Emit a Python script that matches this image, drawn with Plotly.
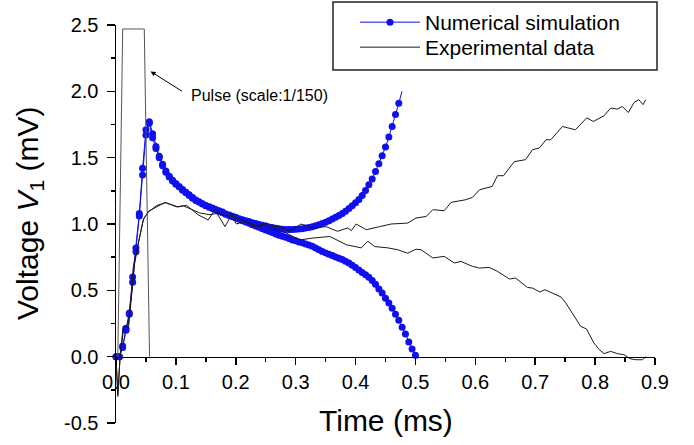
import plotly.graph_objects as go

# ---------------- data ----------------
sim_t = [0, 0.0056, 0.0111, 0.0167, 0.0222, 0.0278, 0.0333, 0.0389, 0.0444, 0.05,
         0.0556, 0.0611, 0.0667, 0.0722, 0.0778, 0.0833, 0.0889, 0.0944, 0.1, 0.1056,
         0.1111, 0.1167, 0.1222, 0.1278, 0.1333, 0.1389, 0.1444, 0.15, 0.1556, 0.1611,
         0.1667, 0.1722, 0.1778, 0.1833, 0.1889, 0.1944, 0.2, 0.2056, 0.2111, 0.2167,
         0.2222, 0.2278, 0.2333, 0.2389, 0.2444, 0.25, 0.2556, 0.2611, 0.2667, 0.2722,
         0.2778, 0.2833, 0.2889, 0.2944, 0.3, 0.3056, 0.3111, 0.3167, 0.3222, 0.3278,
         0.3333, 0.3389, 0.3444, 0.35, 0.3556, 0.3611, 0.3667, 0.3722, 0.3778, 0.3833,
         0.3889, 0.3944, 0.4, 0.4056, 0.4111, 0.4167, 0.4222, 0.4278, 0.4333, 0.4389,
         0.4444, 0.45, 0.4556, 0.4611, 0.4667, 0.4722, 0.4778, 0.4833, 0.4889, 0.4944,
         0.5]

# numerical simulation, branch diverging upwards (86 samples)
sim_up_v = [0.0, 0.0, 0.08, 0.21, 0.33, 0.60, 0.82, 1.08, 1.42, 1.71,
            1.76, 1.65, 1.57, 1.50, 1.44, 1.39, 1.355, 1.325, 1.30, 1.28,
            1.255, 1.235, 1.215, 1.195, 1.178, 1.165, 1.152, 1.14, 1.13, 1.12,
            1.11, 1.10, 1.09, 1.075, 1.067, 1.058, 1.05, 1.04, 1.032, 1.025,
            1.018, 1.01, 1.003, 0.997, 0.99, 0.984, 0.978, 0.973, 0.968, 0.964,
            0.961, 0.959, 0.958, 0.958, 0.96, 0.962, 0.965, 0.969, 0.974, 0.98,
            0.987, 0.995, 1.004, 1.014, 1.025, 1.037, 1.05, 1.064, 1.08, 1.097,
            1.116, 1.137, 1.16, 1.185, 1.215, 1.252, 1.295, 1.34, 1.395, 1.455,
            1.515, 1.58, 1.655, 1.735, 1.825, 1.91]
# line continues past the last marker
sim_up_tail_t = [0.4722, 0.4775]
sim_up_tail_v = [1.91, 2.0]

# numerical simulation, branch decaying to zero (91 samples)
sim_dn_v = [0.0, 0.0, 0.07, 0.20, 0.32, 0.56, 0.79, 1.06, 1.37, 1.67,
            1.77, 1.68, 1.585, 1.51, 1.45, 1.40, 1.36, 1.33, 1.305, 1.28,
            1.26, 1.24, 1.22, 1.20, 1.18, 1.165, 1.15, 1.138, 1.127, 1.117,
            1.106, 1.095, 1.085, 1.073, 1.064, 1.055, 1.045, 1.035, 1.025, 1.015,
            1.005, 0.995, 0.985, 0.975, 0.965, 0.955, 0.945, 0.935, 0.925, 0.915,
            0.908, 0.90, 0.89, 0.88, 0.873, 0.865, 0.858, 0.85, 0.842, 0.833,
            0.82, 0.806, 0.793, 0.782, 0.772, 0.762, 0.752, 0.742, 0.732, 0.72,
            0.706, 0.69, 0.672, 0.653, 0.635, 0.618, 0.598, 0.574, 0.545, 0.51,
            0.48, 0.44, 0.405, 0.365, 0.32, 0.275, 0.222, 0.17, 0.11, 0.058,
            0.01]

# experimental data, trace ending high
exp_a_t = [0.0, 0.003, 0.0067, 0.012, 0.0205, 0.026, 0.029, 0.037, 0.0455, 0.054,
           0.065, 0.082, 0.093, 0.104, 0.112, 0.126, 0.14, 0.157, 0.173, 0.182,
           0.193, 0.2, 0.212, 0.223, 0.24, 0.251, 0.262, 0.273, 0.29, 0.309,
           0.329, 0.351, 0.37, 0.387, 0.393, 0.401, 0.418, 0.44, 0.4595, 0.487,
           0.501, 0.518, 0.529, 0.548, 0.5595, 0.584, 0.595, 0.607, 0.628, 0.637,
           0.647, 0.665, 0.684, 0.6955, 0.707, 0.718, 0.726, 0.7455, 0.767, 0.786,
           0.797, 0.815, 0.826, 0.837, 0.8455, 0.8555, 0.865, 0.873, 0.88, 0.8845]
exp_a_v = [0.0, -0.3, 0.0, 0.23, 0.24, 0.48, 0.68, 0.86, 1.03, 1.095,
           1.12, 1.163, 1.145, 1.128, 1.138, 1.108, 1.083, 1.07, 1.083, 1.06,
           1.083, 1.045, 1.03, 1.007, 0.98, 1.007, 0.98, 0.98, 0.945, 1.0,
           0.97, 0.98, 0.945, 0.97, 0.95, 1.0, 0.957, 0.98, 1.0, 1.007,
           1.045, 1.057, 1.108, 1.10, 1.163, 1.183, 1.20, 1.258, 1.283, 1.364,
           1.364, 1.47, 1.485, 1.56, 1.573, 1.635, 1.635, 1.735, 1.71, 1.80,
           1.773, 1.816, 1.874, 1.866, 1.886, 1.84, 1.916, 1.937, 1.90, 1.937]

# experimental data, trace decaying
exp_b_t = [0.0, 0.003, 0.007, 0.013, 0.021, 0.027, 0.031, 0.038, 0.046, 0.054,
           0.068, 0.083, 0.101, 0.118, 0.13, 0.137, 0.154, 0.165, 0.182, 0.193,
           0.201, 0.215, 0.23, 0.245, 0.26, 0.273, 0.2955, 0.307, 0.329, 0.357,
           0.3845, 0.4095, 0.4205, 0.432, 0.454, 0.4705, 0.487, 0.501, 0.5095, 0.529,
           0.548, 0.565, 0.576, 0.5955, 0.607, 0.623, 0.637, 0.657, 0.667, 0.687,
           0.6955, 0.708, 0.716, 0.7317, 0.743, 0.751, 0.765, 0.776, 0.7855, 0.798,
           0.807, 0.815, 0.826, 0.837, 0.848, 0.858, 0.868, 0.879, 0.8845]
exp_b_v = [0.0, -0.28, 0.0, 0.22, 0.22, 0.50, 0.70, 0.87, 1.04, 1.09,
           1.14, 1.16, 1.13, 1.14, 1.10, 1.07, 1.03, 1.108, 0.98, 1.07,
           1.0, 1.02, 0.98, 1.0, 0.96, 0.957, 0.906, 0.88, 0.894, 0.906,
           0.844, 0.82, 0.87, 0.83, 0.82, 0.806, 0.78, 0.81, 0.806, 0.744,
           0.756, 0.706, 0.718, 0.68, 0.668, 0.673, 0.643, 0.585, 0.593, 0.522,
           0.517, 0.487, 0.505, 0.472, 0.45, 0.405, 0.304, 0.228, 0.209, 0.103,
           0.053, 0.023, 0.04, 0.023, 0.015, -0.015, -0.023, -0.023, 0.0]

# excitation pulse (scale 1/150)
pulse_t = [0.003, 0.0112, 0.0472, 0.056]
pulse_v = [0.0, 2.47, 2.47, 0.0]

x_ticks = [0.0, 0.1, 0.2, 0.3, 0.4, 0.5, 0.6, 0.7, 0.8, 0.9]
y_ticks = [-0.5, 0.0, 0.5, 1.0, 1.5, 2.0, 2.5]

# ---------------- figure ----------------
FONT = "Liberation Sans, Arial, Helvetica, sans-serif"
BLUE = "#0f0ff0"
BLACK = "#1a1a1a"
W, H = 694, 445
L, R, T, B = 116, 39, 25, 22
PW, PH = W - L - R, H - T - B

fig = go.Figure()
fig.add_trace(go.Scatter(x=sim_t[:len(sim_up_v)], y=sim_up_v, mode="lines+markers",
                         name="Numerical simulation", legend="legend",
                         line=dict(color=BLUE, width=1),
                         marker=dict(color=BLUE, size=7), cliponaxis=False))
fig.add_trace(go.Scatter(x=sim_up_tail_t, y=sim_up_tail_v, mode="lines",
                         line=dict(color=BLUE, width=1), showlegend=False))
fig.add_trace(go.Scatter(x=sim_t, y=sim_dn_v, mode="lines+markers",
                         line=dict(color=BLUE, width=1),
                         marker=dict(color=BLUE, size=7), showlegend=False,
                         cliponaxis=False))
fig.add_trace(go.Scatter(x=exp_a_t, y=exp_a_v, mode="lines", name="Experimental data",
                         legend="legend2", line=dict(color=BLACK, width=1)))
fig.add_trace(go.Scatter(x=exp_b_t, y=exp_b_v, mode="lines",
                         line=dict(color=BLACK, width=1), showlegend=False))
fig.add_trace(go.Scatter(x=pulse_t, y=pulse_v, mode="lines",
                         line=dict(color="#555555", width=1), showlegend=False))

axis_common = dict(showgrid=False, zeroline=False, showline=True, linecolor="black",
                   linewidth=1.5, ticks="outside", tickwidth=1.5, tickcolor="black",
                   automargin=False,
                   tickfont=dict(size=20, family=FONT, color="black"))

legend_common = dict(xref="container", yref="container", xanchor="left", yanchor="top",
                     bgcolor="rgba(0,0,0,0)", borderwidth=0, itemwidth=60,
                     font=dict(size=21, family=FONT, color="black"))

fig.update_layout(
    width=W, height=H,
    margin=dict(l=L, r=R, t=T, b=B, autoexpand=False),
    paper_bgcolor="white", plot_bgcolor="white",
    font=dict(family=FONT, color="black"),
    hovermode=False,
    xaxis=dict(range=[0, 0.9], tickvals=x_ticks,
               ticktext=[f"{v:.1f}" for v in x_ticks], ticklen=7,
               minor=dict(dtick=0.05, ticks="outside", ticklen=4, tickwidth=1.5,
                          tickcolor="black"),
               anchor="free", position=1/6, **axis_common),
    yaxis=dict(range=[-0.5, 2.5], tickvals=y_ticks,
               ticktext=[f"{v:.1f}" for v in y_ticks], ticklen=8,
               minor=dict(dtick=0.25, ticks="outside", ticklen=4, tickwidth=1.5,
                          tickcolor="black"),
               ticklabelstandoff=4, **axis_common),
    legend=dict(x=355 / W, y=1 - 2 / H, **legend_common),
    legend2=dict(x=355 / W, y=1 - 27 / H, **legend_common),
    showlegend=True,
)

# legend frame
fig.add_shape(type="rect", xref="paper", yref="paper",
              x0=(333 - L) / PW, x1=(657 - L) / PW,
              y0=(H - B - 70) / PH, y1=(H - B - 2) / PH,
              line=dict(color="#222222", width=1.5), fillcolor="rgba(0,0,0,0)")

# axis titles
fig.add_annotation(text="Voltage <i>V</i><sub>1</sub> (mV)", xref="paper", yref="paper",
                   x=(29 - L) / PW, y=(H - B - 214) / PH, textangle=-90,
                   xanchor="center", yanchor="middle", showarrow=False,
                   font=dict(size=30, family=FONT, color="black"))
fig.add_annotation(text="Time (ms)", xref="paper", yref="paper",
                   x=0.5, y=(H - B - 420) / PH, xanchor="center", yanchor="middle",
                   showarrow=False, font=dict(size=30, family=FONT, color="black"))

# pulse label with arrow
fig.add_annotation(text="Pulse (scale:1/150)", x=0.0578, y=2.15, xref="x", yref="y",
                   ax=38, ay=24, xanchor="left", yanchor="middle",
                   showarrow=True, arrowhead=2, arrowsize=1, arrowwidth=1,
                   arrowcolor="black", startstandoff=8,
                   font=dict(size=16, family=FONT, color="black"))

fig.write_html("out.html", config={"displayModeBar": False, "staticPlot": True},
               post_script="document.body.style.margin='0';document.body.style.overflow='hidden';")
